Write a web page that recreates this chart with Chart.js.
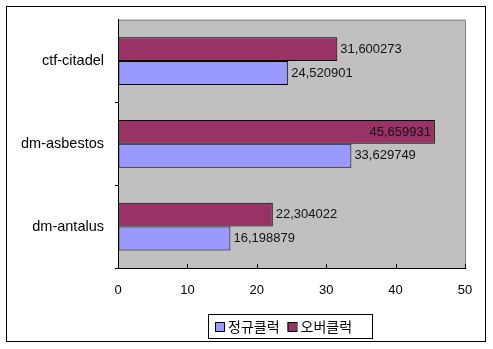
<!DOCTYPE html>
<html lang="ko">
<head>
    <meta charset="UTF-8">
    <title>맵별 프레임 비교</title>
    <script src="https://cdn.jsdelivr.net/npm/chart.js@4.4.0/dist/chart.umd.min.js"></script>
    <style>
        html, body { margin: 0; padding: 0; background: #fff; }
        #wrap { position: relative; width: 493px; height: 349px; }
    </style>
</head>
<body>
    <div id="wrap"><canvas id="fpsChart"></canvas></div>

    <script>
        // Map names and frame rates
        const maps = ['ctf-citadel', 'dm-asbestos', 'dm-antalus'];
        const overclock = [31.600273, 45.659931, 22.304022];
        const regular = [24.520901, 33.629749, 16.198879];
        const xTicks = [0, 10, 20, 30, 40, 50];

        const sans = '"Liberation Sans", Arial, sans-serif';
        const fmt = v => v.toFixed(6).replace('.', ',');

        // Gray plot background, frame, value labels and legend box
        const frame = {
            id: 'frame',
            beforeDraw(chart) {
                const { ctx, chartArea: a } = chart;
                ctx.save();
                ctx.fillStyle = '#c0c0c0';
                ctx.fillRect(a.left, a.top, a.right - a.left, a.bottom - a.top);
                ctx.strokeStyle = '#808080';
                ctx.lineWidth = 1;
                ctx.beginPath();
                ctx.moveTo(a.left, a.top + 0.5);
                ctx.lineTo(a.right + 0.5, a.top + 0.5);
                ctx.lineTo(a.right + 0.5, a.bottom);
                ctx.stroke();
                ctx.strokeStyle = '#000';
                ctx.strokeRect(6.5, 6.5, 479, 335);
                ctx.restore();
            },
            afterDraw(chart) {
                const { ctx, chartArea: a } = chart;
                const xs = chart.scales.x;
                ctx.save();
                // small inner tick marks on the value axis
                ctx.strokeStyle = '#000';
                ctx.lineWidth = 1;
                ctx.beginPath();
                xTicks.forEach(t => {
                    const px = Math.round(xs.getPixelForValue(t)) + 0.5;
                    ctx.moveTo(px, a.bottom);
                    ctx.lineTo(px, a.bottom - 4);
                });
                ctx.stroke();

                // value labels next to the bars
                ctx.font = '13px ' + sans;
                ctx.fillStyle = '#111';
                ctx.textBaseline = 'middle';
                chart.data.datasets.forEach((ds, i) => {
                    chart.getDatasetMeta(i).data.forEach((bar, j) => {
                        const txt = fmt(ds.data[j]);
                        const w = ctx.measureText(txt).width;
                        if (bar.x + 3 + w > a.right) {
                            ctx.textAlign = 'right';
                            ctx.fillText(txt, bar.x - 4, bar.y);
                        } else {
                            ctx.textAlign = 'left';
                            ctx.fillText(txt, bar.x + 3, bar.y);
                        }
                    });
                });

                // legend box at the bottom
                const items = chart.data.datasets.slice().reverse();
                ctx.font = '14px "Noto Sans CJK KR", sans-serif';
                ctx.textAlign = 'left';
                ctx.fillStyle = '#fff';
                ctx.fillRect(208, 314, 164, 24);
                ctx.strokeStyle = '#000';
                ctx.strokeRect(208.5, 314.5, 164, 24);
                let x = 215;
                items.forEach(ds => {
                    ctx.fillStyle = ds.backgroundColor;
                    ctx.fillRect(x, 322, 9, 9);
                    ctx.strokeStyle = '#000';
                    ctx.strokeRect(x + 0.5, 322.5, 9, 9);
                    ctx.fillStyle = '#000';
                    ctx.fillText(ds.label, x + 13, 327);
                    x += 13 + ctx.measureText(ds.label).width + 8;
                });
                ctx.restore();
            }
        };

        new Chart(document.getElementById('fpsChart'), {
            type: 'bar',
            data: {
                labels: maps,
                datasets: [
                    {
                        label: '오버클럭',
                        data: overclock,
                        backgroundColor: '#993366',
                        borderColor: '#000',
                        borderWidth: 1,
                        borderSkipped: false
                    },
                    {
                        label: '정규클럭',
                        data: regular,
                        backgroundColor: '#9999ff',
                        borderColor: '#000',
                        borderWidth: 1,
                        borderSkipped: false
                    }
                ]
            },
            options: {
                indexAxis: 'y',
                responsive: true,
                maintainAspectRatio: false,
                animation: false,
                layout: { padding: { left: 0, top: 17, right: 28, bottom: 0 } },
                datasets: { bar: { categoryPercentage: 0.575, barPercentage: 1.0 } },
                plugins: {
                    legend: { display: false },
                    tooltip: { enabled: false }
                },
                scales: {
                    x: {
                        min: 0,
                        max: 50,
                        afterBuildTicks: s => { s.ticks = xTicks.map(v => ({ value: v })); },
                        afterFit: s => { s.height = 81; },
                        grid: { drawOnChartArea: false, drawTicks: false },
                        border: { color: '#000', width: 1 },
                        ticks: {
                            padding: 15,
                            color: '#000',
                            font: { family: sans, size: 13 }
                        }
                    },
                    y: {
                        afterFit: s => { s.width = 118; },
                        grid: {
                            drawOnChartArea: false,
                            offset: true,
                            tickLength: 3,
                            // only the marks between categories
                            color: c => (c.index === 0 || c.index === maps.length) ? 'rgba(0,0,0,0)' : '#000'
                        },
                        border: { color: '#000', width: 1 },
                        ticks: {
                            padding: 11,
                            color: '#000',
                            font: { family: sans, size: 14.5 }
                        }
                    }
                }
            },
            plugins: [frame]
        });
    </script>
</body>
</html>
